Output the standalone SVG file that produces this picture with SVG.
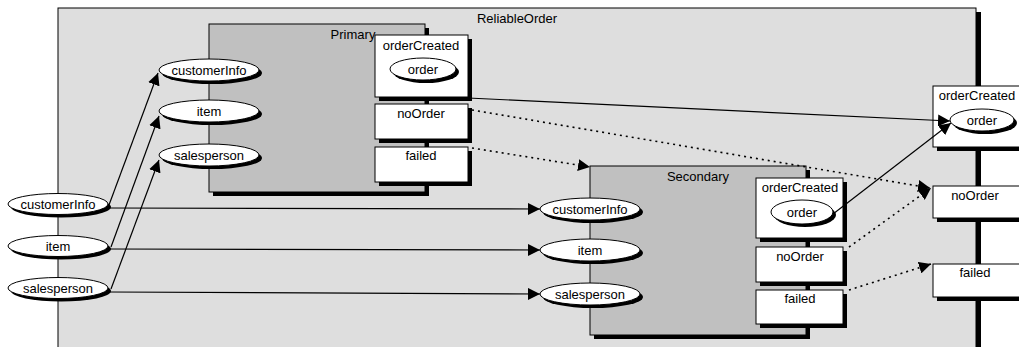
<svg xmlns="http://www.w3.org/2000/svg" width="1019" height="347" viewBox="0 0 1019 347">
<style>
text{font-family:"Liberation Sans",Arial,sans-serif;font-size:13px;fill:#000;text-anchor:middle}
.sh{fill:#000}
.box{fill:#fff;stroke:#000;stroke-width:1}
.ell{fill:#fff;stroke:#000;stroke-width:1}
.comp{fill:#c0c0c0;stroke:#000;stroke-width:1}
.c{fill:none;stroke:#000;stroke-width:1.2}
.d{fill:none;stroke:#000;stroke-width:1.6;stroke-dasharray:2 4}
</style>
<defs>
<marker id="ah" markerUnits="userSpaceOnUse" markerWidth="13" markerHeight="12" refX="12" refY="6" orient="auto">
<path d="M0,0 L12,6 L0,12 z" fill="#000" stroke="none"/>
</marker>
</defs>
<g id="ReliableOrder">
<rect x="62" y="12" width="919" height="345" class="sh"/>
<rect x="58" y="8" width="918" height="345" fill="#dedede" stroke="#000" stroke-width="1"/>
<text x="517" y="23">ReliableOrder</text>
</g>
<g id="in-customerInfo">
<ellipse cx="61" cy="207" rx="50" ry="10.5" class="sh"/>
<ellipse cx="58" cy="204" rx="50" ry="10.5" class="ell"/>
<text x="58" y="209">customerInfo</text>
</g>
<g id="in-item">
<ellipse cx="61" cy="249" rx="50" ry="10.5" class="sh"/>
<ellipse cx="58" cy="246" rx="50" ry="10.5" class="ell"/>
<text x="58" y="251">item</text>
</g>
<g id="in-salesperson">
<ellipse cx="61" cy="291" rx="50" ry="10.5" class="sh"/>
<ellipse cx="58" cy="288" rx="50" ry="10.5" class="ell"/>
<text x="58" y="293">salesperson</text>
</g>
<g id="out-orderCreated">
<rect x="937" y="90" width="88" height="61" class="sh"/>
<rect x="933" y="86" width="88" height="61" class="box"/>
<text x="977" y="100">orderCreated</text>
<ellipse cx="985" cy="123" rx="32" ry="11" class="sh"/>
<ellipse cx="982" cy="120" rx="32" ry="11" class="ell"/>
<text x="982" y="125">order</text>
</g>
<g id="out-noOrder">
<rect x="937" y="190" width="88" height="32" class="sh"/>
<rect x="933" y="186" width="88" height="32" class="box"/>
<text x="975" y="200">noOrder</text>
</g>
<g id="out-failed">
<rect x="937" y="268" width="88" height="33" class="sh"/>
<rect x="933" y="264" width="88" height="33" class="box"/>
<text x="975" y="277">failed</text>
</g>
<g id="Primary">
<rect x="213" y="28" width="216" height="168" class="sh"/>
<rect x="209" y="24" width="216" height="168" class="comp"/>
<text x="353" y="39">Primary</text>
<ellipse cx="212" cy="73" rx="50" ry="11" class="sh"/>
<ellipse cx="209" cy="70" rx="50" ry="11" class="ell"/>
<text x="209" y="75">customerInfo</text>
<ellipse cx="212" cy="114" rx="50" ry="11" class="sh"/>
<ellipse cx="209" cy="111" rx="50" ry="11" class="ell"/>
<text x="209" y="116">item</text>
<ellipse cx="212" cy="158" rx="50" ry="11" class="sh"/>
<ellipse cx="209" cy="155" rx="50" ry="11" class="ell"/>
<text x="209" y="160">salesperson</text>
<rect x="379" y="39" width="93" height="62" class="sh"/>
<rect x="375" y="35" width="93" height="62" class="box"/>
<text x="421" y="50">orderCreated</text>
<ellipse cx="426" cy="72" rx="33" ry="11" class="sh"/>
<ellipse cx="423" cy="69" rx="33" ry="11" class="ell"/>
<text x="423" y="74">order</text>
<rect x="379" y="108" width="93" height="35" class="sh"/>
<rect x="375" y="104" width="93" height="35" class="box"/>
<text x="421" y="118">noOrder</text>
<rect x="379" y="151" width="93" height="35" class="sh"/>
<rect x="375" y="147" width="93" height="35" class="box"/>
<text x="421" y="160">failed</text>
</g>
<g id="Secondary">
<rect x="594" y="170" width="216" height="169" class="sh"/>
<rect x="590" y="166" width="216" height="169" class="comp"/>
<text x="698" y="181">Secondary</text>
<ellipse cx="593" cy="212" rx="50" ry="11" class="sh"/>
<ellipse cx="590" cy="209" rx="50" ry="11" class="ell"/>
<text x="590" y="214">customerInfo</text>
<ellipse cx="593" cy="253" rx="50" ry="11" class="sh"/>
<ellipse cx="590" cy="250" rx="50" ry="11" class="ell"/>
<text x="590" y="255">item</text>
<ellipse cx="593" cy="297" rx="50" ry="11" class="sh"/>
<ellipse cx="590" cy="294" rx="50" ry="11" class="ell"/>
<text x="590" y="299">salesperson</text>
<rect x="760" y="182" width="87" height="60" class="sh"/>
<rect x="756" y="178" width="87" height="60" class="box"/>
<text x="800" y="192">orderCreated</text>
<ellipse cx="805" cy="215" rx="31" ry="12" class="sh"/>
<ellipse cx="802" cy="212" rx="31" ry="12" class="ell"/>
<text x="802" y="217">order</text>
<rect x="760" y="251" width="87" height="35" class="sh"/>
<rect x="756" y="247" width="87" height="35" class="box"/>
<text x="800" y="261">noOrder</text>
<rect x="760" y="294" width="87" height="34" class="sh"/>
<rect x="756" y="290" width="87" height="34" class="box"/>
<text x="800" y="303">failed</text>
</g>
<g id="connectors">
<path d="M109,205 L158,73" class="c" marker-end="url(#ah)"/>
<path d="M111,247 L159,116" class="c" marker-end="url(#ah)"/>
<path d="M111,289 L159,160" class="c" marker-end="url(#ah)"/>
<path d="M109,208 L540,209" class="c" marker-end="url(#ah)"/>
<path d="M109,249 L540,250" class="c" marker-end="url(#ah)"/>
<path d="M109,292 L540,294" class="c" marker-end="url(#ah)"/>
<path d="M468,98 L950,121" class="c" marker-end="url(#ah)"/>
<path d="M833,214 L951,123" class="c" marker-end="url(#ah)"/>
<path d="M472,110 L930,188" class="d" marker-end="url(#ah)"/>
<path d="M472,148 L590,167" class="d" marker-end="url(#ah)"/>
<path d="M849,247 L931,188" class="d" marker-end="url(#ah)"/>
<path d="M849,290 L931,264" class="d" marker-end="url(#ah)"/>
</g>
</svg>
